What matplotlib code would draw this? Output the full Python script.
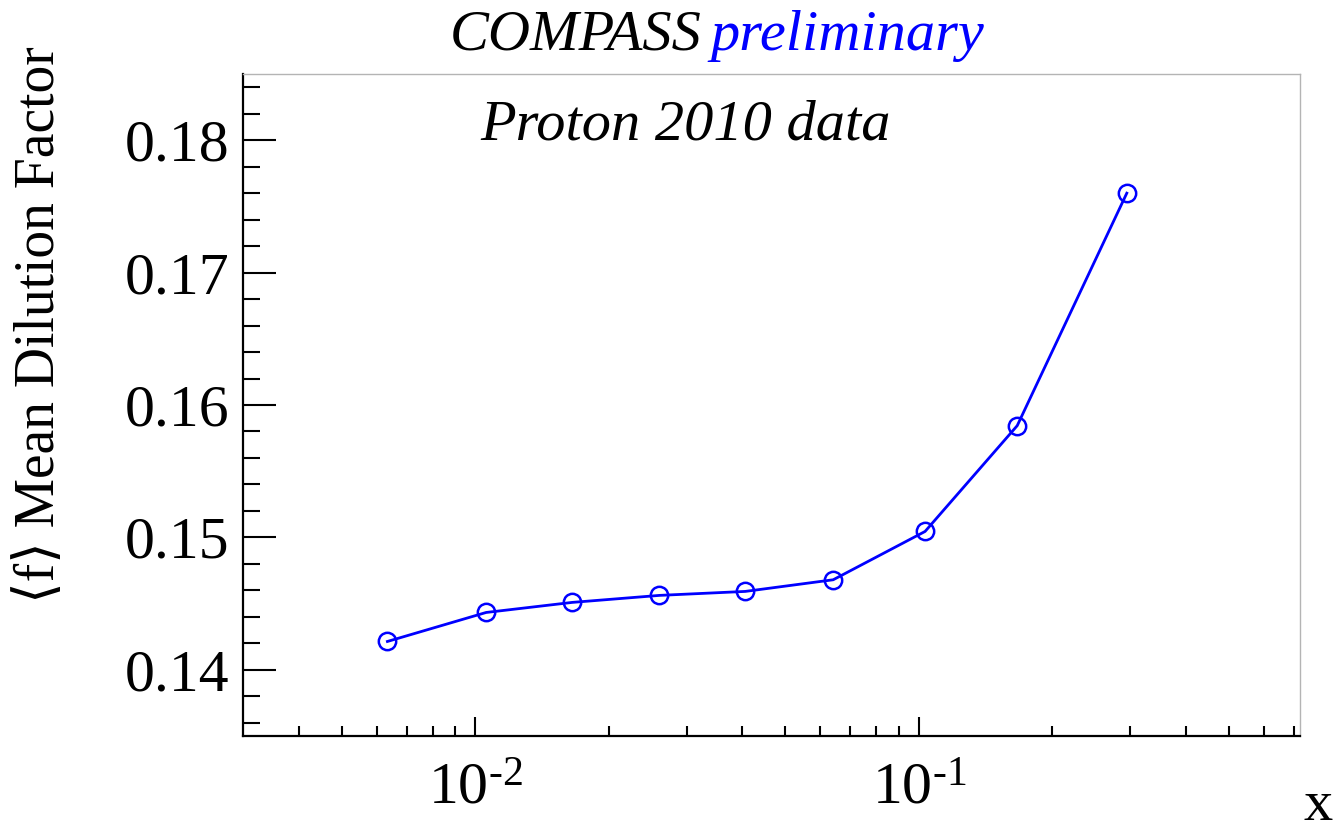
import matplotlib
matplotlib.use("Agg")
import matplotlib.pyplot as plt
from matplotlib.ticker import FixedLocator, NullFormatter, FixedFormatter, MultipleLocator
import numpy as np

# Data
x_vals = [0.00633, 0.01057, 0.01652, 0.0260, 0.0406, 0.0641, 0.1033, 0.1667, 0.2945]
f_vals = [0.14214, 0.14433, 0.14509, 0.14562, 0.14592, 0.1468, 0.15045, 0.15844, 0.1760]
y_ticks = [0.14, 0.15, 0.16, 0.17, 0.18]
y_tick_labels = ["0.14", "0.15", "0.16", "0.17", "0.18"]
x_major = [0.01, 0.1]
x_major_labels = [r"$\mathregular{10^{\text{-2}}}$", r"$\mathregular{10^{\text{-1}}}$"]
x_minor = [0.004, 0.005, 0.006, 0.007, 0.008, 0.009,
           0.02, 0.03, 0.04, 0.05, 0.06, 0.07, 0.08, 0.09,
           0.2, 0.3, 0.4, 0.5, 0.6, 0.7]

plt.rcParams['font.family'] = ['Liberation Serif', 'DejaVu Serif']
plt.rcParams['mathtext.fontset'] = 'custom'
plt.rcParams['mathtext.rm'] = 'Liberation Serif'

fig = plt.figure(figsize=(13.4, 8.32), dpi=100)
ax = fig.add_axes([243/1340, 1-736/832, (1300-243)/1340, (736-74)/832])

ax.plot(x_vals, f_vals, color='#0000ff', lw=2.0, marker='o', ms=12.5,
        mfc='none', mec='#0000ff', mew=1.8, zorder=3)

ax.set_xscale('log')
ax.set_xlim(0.00299, 0.724)
ax.set_ylim(0.135, 0.185)

ax.xaxis.set_major_locator(FixedLocator(x_major))
ax.xaxis.set_major_formatter(FixedFormatter(x_major_labels))
ax.xaxis.set_minor_locator(FixedLocator(x_minor))
ax.xaxis.set_minor_formatter(NullFormatter())
ax.yaxis.set_major_locator(FixedLocator(y_ticks))
ax.yaxis.set_major_formatter(FixedFormatter(y_tick_labels))
ax.yaxis.set_minor_locator(MultipleLocator(0.002))

ax.tick_params(axis='y', which='major', direction='in', length=24, width=1.5,
               labelsize=43, pad=10, left=True, right=False)
ax.tick_params(axis='y', which='minor', direction='in', length=12, width=1.5,
               left=True, right=False)
ax.tick_params(axis='x', which='major', direction='in', length=14, width=1.5,
               labelsize=43, pad=19, bottom=True, top=False)
ax.tick_params(axis='x', which='minor', direction='in', length=7.5, width=1.5,
               bottom=True, top=False)

for s in ['left', 'bottom']:
    ax.spines[s].set_color('black')
    ax.spines[s].set_linewidth(1.6)
for s in ['top', 'right']:
    ax.spines[s].set_color('#b4b4b4')
    ax.spines[s].set_linewidth(1.0)

# Title
fig.text(702/1340, 1-50/832, "COMPASS", fontsize=42, style='italic', color='black',
         ha='right', va='baseline')
fig.text(710/1340, 1-50/832, "preliminary", fontsize=42, style='italic', color='#0000ff',
         ha='left', va='baseline')

fig.text(686/1340, 1-140/832, "Proton 2010 data", fontsize=42, style='italic',
         color='black', ha='center', va='baseline')

fig.text(40/1340, 1-325/832, "\u27e8f\u27e9 Mean Dilution Factor", fontsize=40,
         rotation=90, ha='center', va='center')

fig.text(1318/1340, 1-820/832, "x", fontsize=42, ha='center', va='baseline')

fig.savefig("out.png", dpi=100)
